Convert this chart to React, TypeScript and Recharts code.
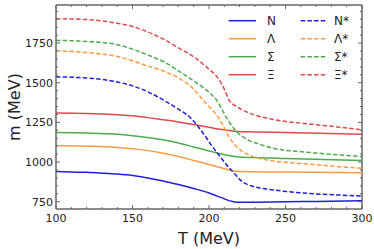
import { LineChart, Line, XAxis, YAxis, Legend, ReferenceLine } from "recharts";

// masses m (MeV) vs temperature T (MeV)
const nucleon = [
    { T: 100, m: 940 }, { T: 110, m: 938 }, { T: 120, m: 935 }, { T: 130, m: 930 }, { T: 140, m: 924 },
    { T: 150, m: 915 }, { T: 160, m: 900 }, { T: 170, m: 881 }, { T: 180, m: 858 }, { T: 190, m: 833 },
    { T: 200, m: 805 }, { T: 205, m: 787 }, { T: 210, m: 768 }, { T: 213, m: 757 }, { T: 216, m: 750 },
    { T: 220, m: 746 }, { T: 230, m: 747 }, { T: 250, m: 750 }, { T: 270, m: 752 }, { T: 300, m: 756 },
]
const lambda = [
    { T: 100, m: 1104 }, { T: 120, m: 1100 }, { T: 140, m: 1092 }, { T: 150, m: 1084 }, { T: 160, m: 1072 },
    { T: 170, m: 1056 }, { T: 180, m: 1035 }, { T: 190, m: 1010 }, { T: 200, m: 985 }, { T: 210, m: 958 },
    { T: 216, m: 943 }, { T: 220, m: 940 }, { T: 250, m: 937 }, { T: 300, m: 933 },
]
const sigma = [
    { T: 100, m: 1186 }, { T: 120, m: 1183 }, { T: 140, m: 1175 }, { T: 150, m: 1166 }, { T: 160, m: 1155 },
    { T: 170, m: 1140 }, { T: 180, m: 1120 }, { T: 190, m: 1095 }, { T: 200, m: 1070 }, { T: 210, m: 1047 },
    { T: 218, m: 1034 }, { T: 230, m: 1028 }, { T: 250, m: 1022 }, { T: 300, m: 1009 },
]
const xi = [
    { T: 100, m: 1309 }, { T: 120, m: 1306 }, { T: 140, m: 1298 }, { T: 150, m: 1292 }, { T: 160, m: 1280 },
    { T: 170, m: 1267 }, { T: 180, m: 1253 }, { T: 190, m: 1236 }, { T: 200, m: 1219 }, { T: 210, m: 1203 },
    { T: 218, m: 1193 }, { T: 230, m: 1190 }, { T: 250, m: 1187 }, { T: 300, m: 1176 },
]
const nucleonStar = [
    { T: 100, m: 1537 }, { T: 120, m: 1530 }, { T: 130, m: 1521 }, { T: 140, m: 1505 }, { T: 150, m: 1480 },
    { T: 160, m: 1443 }, { T: 170, m: 1392 }, { T: 180, m: 1333 }, { T: 187, m: 1287 }, { T: 192, m: 1234 },
    { T: 197, m: 1170 }, { T: 202, m: 1100 }, { T: 206, m: 1050 }, { T: 209, m: 1013 }, { T: 213, m: 965 },
    { T: 216, m: 935 }, { T: 220, m: 891 }, { T: 223, m: 868 }, { T: 226, m: 855 }, { T: 231, m: 841 },
    { T: 242, m: 824 }, { T: 250, m: 815 }, { T: 264, m: 803 }, { T: 285, m: 792 }, { T: 300, m: 786 },
]
const lambdaStar = [
    { T: 100, m: 1702 }, { T: 120, m: 1690 }, { T: 140, m: 1665 }, { T: 150, m: 1638 }, { T: 160, m: 1605 },
    { T: 170, m: 1575 }, { T: 180, m: 1530 }, { T: 190, m: 1460 }, { T: 196, m: 1392 }, { T: 200, m: 1350 },
    { T: 205, m: 1297 }, { T: 209, m: 1234 }, { T: 213, m: 1160 }, { T: 218, m: 1097 }, { T: 222, m: 1065 },
    { T: 226, m: 1045 }, { T: 231, m: 1028 }, { T: 242, m: 1007 }, { T: 250, m: 998 }, { T: 264, m: 988 },
    { T: 285, m: 971 }, { T: 300, m: 961 },
]
const sigmaStar = [
    { T: 100, m: 1767 }, { T: 120, m: 1760 }, { T: 140, m: 1740 }, { T: 150, m: 1712 }, { T: 160, m: 1675 },
    { T: 170, m: 1634 }, { T: 180, m: 1575 }, { T: 192, m: 1498 }, { T: 200, m: 1440 }, { T: 205, m: 1390 },
    { T: 211, m: 1287 }, { T: 214, m: 1240 }, { T: 218, m: 1192 }, { T: 222, m: 1160 }, { T: 226, m: 1137 },
    { T: 231, m: 1119 }, { T: 242, m: 1087 }, { T: 264, m: 1062 }, { T: 285, m: 1045 }, { T: 300, m: 1034 },
]
const xiStar = [
    { T: 100, m: 1904 }, { T: 120, m: 1898 }, { T: 130, m: 1890 }, { T: 140, m: 1875 }, { T: 150, m: 1855 },
    { T: 160, m: 1820 }, { T: 170, m: 1776 }, { T: 180, m: 1720 }, { T: 192, m: 1650 }, { T: 200, m: 1585 },
    { T: 205, m: 1540 }, { T: 210, m: 1460 }, { T: 213, m: 1392 }, { T: 218, m: 1350 }, { T: 222, m: 1328 },
    { T: 226, m: 1310 }, { T: 231, m: 1293 }, { T: 242, m: 1268 }, { T: 264, m: 1241 }, { T: 285, m: 1220 },
    { T: 300, m: 1203 },
]

const xTicks = [100, 110, 120, 130, 140, 150, 160, 170, 180, 190, 200, 210, 220, 230, 240, 250, 260, 270, 280, 290, 300]
const yTicks = [750, 800, 850, 900, 950, 1000, 1050, 1100, 1150, 1200, 1250, 1300, 1350, 1400, 1450, 1500, 1550, 1600, 1650, 1700, 1750, 1800, 1850, 1900, 1950]

const BLUE = "#1f1fd8"
const ORANGE = "#ff9a40"
const GREEN = "#4cac4c"
const RED = "#dc4a4b"
const DASH = "4.5 2.2"

const series = [
    { name: "N", data: nucleon, color: BLUE, dash: undefined },
    { name: "Λ", data: lambda, color: ORANGE, dash: undefined },
    { name: "Σ", data: sigma, color: GREEN, dash: undefined },
    { name: "Ξ", data: xi, color: RED, dash: undefined },
    { name: "N*", data: nucleonStar, color: BLUE, dash: DASH },
    { name: "Λ*", data: lambdaStar, color: ORANGE, dash: DASH },
    { name: "Σ*", data: sigmaStar, color: GREEN, dash: DASH },
    { name: "Ξ*", data: xiStar, color: RED, dash: DASH },
]

const FONT = "DejaVu Sans, sans-serif"
const FRAME = "#666"
const PLOT_TOP = 5
const PLOT_RIGHT = 362

function XTick({ x, y, payload }: any) {
    const v = payload.value
    const major = v % 50 === 0
    const len = major ? 4 : 2
    return (
        <g>
            <line x1={x} x2={x} y1={y} y2={y - len} stroke={FRAME} strokeWidth={1} />
            <line x1={x} x2={x} y1={PLOT_TOP} y2={PLOT_TOP + len} stroke={FRAME} strokeWidth={1} />
            {major && (
                <text x={x} y={y + 13} textAnchor="middle" fontSize={11} fontFamily={FONT} fill="#222">{v}</text>
            )}
        </g>
    )
}

function YTick({ x, y, payload }: any) {
    const v = payload.value
    const major = v % 250 === 0
    const len = major ? 4 : 2
    return (
        <g>
            <line x1={x} x2={x + len} y1={y} y2={y} stroke={FRAME} strokeWidth={1} />
            <line x1={PLOT_RIGHT} x2={PLOT_RIGHT - len} y1={y} y2={y} stroke={FRAME} strokeWidth={1} />
            {major && (
                <text x={x - 3} y={y + 4} textAnchor="end" fontSize={11} fontFamily={FONT} fill="#222">{v}</text>
            )}
        </g>
    )
}

function LegendBox() {
    return (
        <svg width={150} height={75}>
            {series.map((s, i) => {
                const col = i < 4 ? 0 : 1
                const row = i % 4
                const cy = 9.7 + row * 18
                const x0 = col === 0 ? 6.7 : 78.7
                const x1 = col === 0 ? 34 : 105.3
                const tx = col === 0 ? 45 : 112
                return (
                    <g key={s.name}>
                        <line x1={x0} x2={x1} y1={cy} y2={cy} stroke={s.color} strokeWidth={1.5} strokeDasharray={s.dash} />
                        <text x={tx} y={cy + 4.5} fontSize={12} fontFamily={FONT} fill="#222">{s.name}</text>
                    </g>
                )
            })}
        </svg>
    )
}

export default function App() {
    return (
        <div style={{ position: "absolute", left: 0, top: 0, background: "#fff" }}>
            <LineChart width={374} height={249} margin={{ top: PLOT_TOP, right: 374 - PLOT_RIGHT, left: 0, bottom: 0 }}>
                <XAxis
                    dataKey="T"
                    type="number"
                    domain={[100, 300]}
                    ticks={xTicks}
                    interval={0}
                    height={40}
                    tickSize={0}
                    tickMargin={0}
                    tickLine={false}
                    tick={<XTick />}
                    axisLine={{ stroke: FRAME, strokeWidth: 1.5 }}
                    allowDataOverflow
                    label={{ value: "T (MeV)", position: "insideBottom", offset: 5, fontSize: 16, fontFamily: FONT, fill: "#222" }}
                />
                <YAxis
                    type="number"
                    domain={[704, 1990]}
                    ticks={yTicks}
                    interval={0}
                    width={56}
                    tickSize={0}
                    tickMargin={0}
                    tickLine={false}
                    tick={<YTick />}
                    axisLine={{ stroke: FRAME, strokeWidth: 1.5 }}
                    allowDataOverflow
                    label={{
                        content: () => (
                            <text transform="translate(14,107) rotate(-90)" textAnchor="middle" dominantBaseline="central"
                                fontSize={16} fontFamily={FONT} fill="#222">m (MeV)</text>
                        ),
                    }}
                />
                <ReferenceLine y={1990} stroke={FRAME} strokeWidth={1.5} />
                <ReferenceLine x={300} stroke={FRAME} strokeWidth={1.5} />
                {series.map(s => (
                    <Line
                        key={s.name}
                        data={s.data}
                        dataKey="m"
                        name={s.name}
                        type="monotone"
                        stroke={s.color}
                        strokeWidth={1.5}
                        strokeDasharray={s.dash}
                        dot={false}
                        activeDot={false}
                        isAnimationActive={false}
                    />
                ))}
                <Legend
                    layout="horizontal"
                    verticalAlign="middle"
                    align="center"
                    content={<LegendBox />}
                    wrapperStyle={{ top: 11, left: 222, width: 150, height: 75 }}
                />
            </LineChart>
        </div>
    )
}
